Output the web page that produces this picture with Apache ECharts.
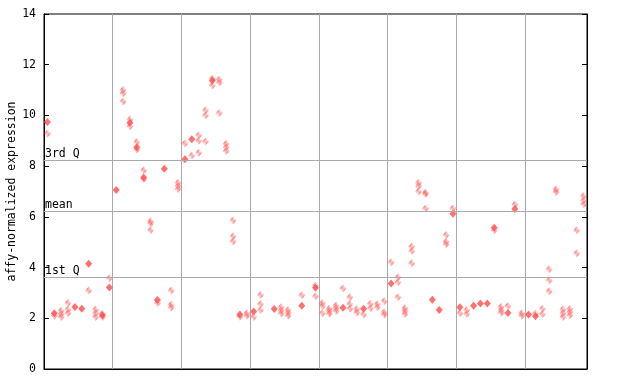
<!DOCTYPE html>
<html>
<head>
<meta charset="utf-8">
<script src="https://cdn.jsdelivr.net/npm/echarts@6/dist/echarts.min.js"></script>
<style>html,body{margin:0;padding:0;background:#fff}#c{width:640px;height:384px}</style>
</head>
<body>
<div id="c"></div>
<script>
// Per-sample highlighted (solid) values; null where none
var solidValues = [
  9.74, 2.2, null, null, 2.45, 2.38, 4.15, null, 2.12, 3.21,
  7.06, null, 9.71, 8.75, 7.55, null, 2.72, 7.9, null, null,
  8.27, 9.06, null, null, 11.38, null, null, null, 2.15, null,
  2.27, null, null, 2.37, null, null, null, 2.49, null, 3.2,
  null, null, null, 2.42, null, null, 2.38, null, null, null,
  3.37, null, null, null, null, null, 2.73, 2.33, null, 6.12,
  2.44, null, 2.49, 2.58, 2.58, 5.57, null, 2.21, 6.31, null,
  2.15, 2.08, null, null, null, null, null, null, null
];
// Per-sample other (hatched) values
var hatchedValues = [
  [9.29], [2.1], [2.3, 2.17, 2.05], [2.6, 2.35, 2.2], [], [], [3.1], [2.35, 2.2, 2.05], [2.05, 2.18], [3.58],
  [], [11.0, 10.87, 10.55], [9.84, 9.57], [8.95, 8.66], [7.84, 7.48], [5.83, 5.74, 5.47], [2.6], [], [3.1, 2.53, 2.43], [7.35, 7.22, 7.1],
  [8.89], [8.42], [9.22, 9.0, 8.53], [10.2, 10.0, 8.97], [11.45, 11.18], [11.42, 11.3, 10.1], [8.88, 8.75, 8.6], [5.86, 5.24, 5.03], [2.06], [2.2, 2.1],
  [2.05], [2.92, 2.56, 2.33], [], [], [2.44, 2.31, 2.19], [2.33, 2.22, 2.1], [], [2.91], [], [3.28, 2.87],
  [2.6, 2.48, 2.2], [2.38, 2.28, 2.18], [2.5, 2.4, 2.29], [3.17], [2.83, 2.56, 2.38], [2.36, 2.23], [2.15], [2.57, 2.4], [2.56, 2.44], [2.67, 2.24, 2.14],
  [4.21], [3.62, 3.42, 2.83], [2.4, 2.29, 2.17], [4.83, 4.65, 4.17], [7.35, 7.22, 7.0], [6.96, 6.9, 6.33], [], [], [5.28, 5.02, 4.92], [6.33],
  [2.2], [2.33, 2.17], [], [], [], [5.47], [2.45, 2.33, 2.22], [2.48], [6.49], [2.2, 2.1],
  [], [2.18], [2.38, 2.16], [3.93, 3.5, 3.07], [7.08, 6.98], [2.35, 2.2, 2.05], [2.37, 2.25, 2.12], [5.47, 4.56], [6.82, 6.65, 6.5]
];
var refLabels = ['3rd Q', 'mean', '1st Q'];
var refValues = [8.23, 6.22, 3.62];
var yTicks = [0, 2, 4, 6, 8, 10, 12, 14];
var groupSize = 10;

var nSamples = solidValues.length;
var categories = solidValues.map(function (v, i) { return 'S' + (i + 1); });
var red = '#ff4c4c';
var cv = document.createElement('canvas');
cv.width = 2; cv.height = 2;
var cx = cv.getContext('2d');
cx.fillStyle = red;
cx.fillRect(0, 0, 1, 1);
cx.fillRect(1, 1, 1, 1);

var solidData = [];
solidValues.forEach(function (v, i) { if (v !== null) solidData.push([i, v]); });
var hatchedData = [];
hatchedValues.forEach(function (arr, i) { arr.forEach(function (v) { hatchedData.push([i, v]); }); });

var font = 'DejaVu Sans Mono';
var fs = 11.5;
var chart = echarts.init(document.getElementById('c'), null, { renderer: 'canvas' });
chart.setOption({
  animation: false,
  grid: { left: 44, right: 53, top: 14, bottom: 15, containLabel: false, outerBoundsMode: 'none',
    show: true, borderColor: '#000', borderWidth: 1, backgroundColor: 'transparent' },
  xAxis: {
    type: 'category', data: categories, boundaryGap: true,
    axisLine: { show: true, lineStyle: { color: '#000' } },
    axisTick: { show: false }, axisLabel: { show: false },
    splitLine: { show: true, interval: function (idx) { return idx > 0 && idx % groupSize === 0; },
      lineStyle: { color: '#aaa', width: 1 } }
  },
  yAxis: [{
    type: 'value', min: yTicks[0], max: yTicks[yTicks.length - 1], interval: 2,
    name: 'affy-normalized expression', nameLocation: 'middle', nameGap: 26, nameMoveOverlap: false,
    nameTextStyle: { fontFamily: font, fontSize: fs, color: '#000' },
    axisLine: { show: true, lineStyle: { color: '#000' } },
    axisTick: { show: true, inside: true, length: 5, lineStyle: { color: '#000' } },
    axisLabel: { fontFamily: font, fontSize: fs, color: '#000', margin: 8 },
    splitLine: { show: false }
  }, {
    type: 'value', position: 'right', min: yTicks[0], max: yTicks[yTicks.length - 1], interval: 2,
    axisLine: { show: true, lineStyle: { color: '#000' } },
    axisTick: { show: true, inside: true, length: 5, lineStyle: { color: '#000' } },
    axisLabel: { show: false }, splitLine: { show: false }
  }],
  series: [{
    type: 'scatter', name: 'hatched', data: hatchedData, symbol: 'diamond', symbolSize: [7, 8],
    itemStyle: { color: { image: cv, repeat: 'repeat' } },
    markLine: {
      silent: true, symbol: 'none', animation: false,
      lineStyle: { color: '#aaa', type: 'solid', width: 1 },
      label: { position: 'insideStartTop', distance: [1, 0], fontFamily: font, fontSize: fs, color: '#000',
        formatter: function (p) { return p.name; } },
      data: refValues.map(function (v, i) { return { name: refLabels[i], yAxis: v }; })
    },
    z: 3
  }, {
    type: 'scatter', name: 'solid', data: solidData, symbol: 'diamond', symbolSize: [7, 8],
    itemStyle: { color: red }, z: 4
  }]
});
</script>
</body>
</html>
